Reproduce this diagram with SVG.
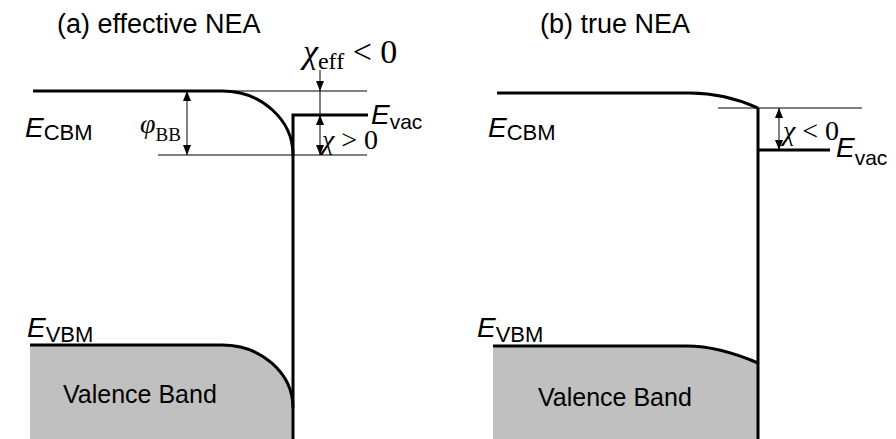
<svg xmlns="http://www.w3.org/2000/svg" width="896" height="439" viewBox="0 0 896 439">
<style>
.thick{fill:none;stroke:#000;stroke-width:3}
.thin{fill:none;stroke:#000;stroke-width:1}
.band{fill:#c0c0c0;stroke:none}
.sans{font-family:"Liberation Sans",Arial,sans-serif;fill:#000}
.serif{font-family:"Liberation Serif","Times New Roman",serif;fill:#000}
.title{font-size:27px}
.E{font-size:28px;font-style:italic}
.sub{font-size:22px}
.vac{font-size:21px}
.vb{font-size:25px}
.gr{font-size:28px;font-style:italic}
.gs{font-size:19px}
.op{font-size:28px}
.big{font-size:34px}
.bigsub{font-size:24px}
</style>
<defs>
<marker id="ah" viewBox="0 0 10 10" refX="10" refY="5" markerWidth="11" markerHeight="10" markerUnits="userSpaceOnUse" orient="auto-start-reverse">
<path d="M0,1 L10,5 L0,9 Z" fill="#000"/>
</marker>
</defs>
<g id="panel-a">
<text class="sans title" x="57" y="33">(a) effective NEA</text>
<g id="a-valence">
<path class="band" d="M30,345 H222 A71 63 0 0 1 293 408 V439 H30 Z"/>
<text class="sans vb" x="63" y="403">Valence Band</text>
</g>
<g id="a-cbm">
<path class="thick" d="M33,91 H222 A71 64 0 0 1 293 155"/>
<text class="sans" x="25" y="137"><tspan class="E">E</tspan><tspan class="sub" dy="3">CBM</tspan></text>
</g>
<g id="a-vbm">
<path class="thick" d="M30,345 H222 A71 63 0 0 1 293 408"/>
<text class="sans" x="27" y="337"><tspan class="E">E</tspan><tspan class="sub" dy="5">VBM</tspan></text>
</g>
<g id="a-vac">
<path class="thick" d="M293,439 V115 H368"/>
<text class="sans" x="371" y="124"><tspan class="E">E</tspan><tspan class="vac" dy="5">vac</tspan></text>
</g>
<g id="a-refs">
<line class="thin" x1="222" y1="91" x2="367" y2="91"/>
<line class="thin" x1="158" y1="155" x2="367" y2="155"/>
</g>
<g id="a-phi">
<text class="serif" x="140" y="133"><tspan class="gr">φ</tspan><tspan class="gs" dy="8">BB</tspan></text>
</g>
<g id="a-chieff">
<text class="serif" x="303" y="63"><tspan class="gr big">χ</tspan><tspan class="bigsub" dy="6">eff</tspan><tspan class="big" dy="-6"> &lt; 0</tspan></text>
</g>
<g id="a-chi">
<text class="serif" x="322" y="149"><tspan class="gr">χ</tspan><tspan class="op"> &gt; 0</tspan></text>
</g>
</g>
<g id="panel-b">
<text class="sans title" x="540" y="33">(b) true NEA</text>
<g id="b-valence">
<path class="band" d="M493,346 H687 C712,346 737,354 758,363 V439 H493 Z"/>
<text class="sans vb" x="538" y="406">Valence Band</text>
</g>
<g id="b-cbm">
<path class="thick" d="M497,93 H690 C715,93 738,99 758,108"/>
<text class="sans" x="488" y="137"><tspan class="E">E</tspan><tspan class="sub" dy="3">CBM</tspan></text>
</g>
<g id="b-vbm">
<path class="thick" d="M493,346 H687 C712,346 737,354 758,363"/>
<text class="sans" x="477" y="337"><tspan class="E">E</tspan><tspan class="sub" dy="5">VBM</tspan></text>
</g>
<g id="b-vac">
<path class="thick" d="M758,439 V108 M758,150 H830"/>
<text class="sans" x="836" y="157"><tspan class="E">E</tspan><tspan class="vac" dy="8">vac</tspan></text>
</g>
<g id="b-refs">
<line class="thin" x1="718" y1="108" x2="862" y2="108"/>
</g>
<g id="b-chi">
<text class="serif" x="783" y="140"><tspan class="gr">χ</tspan><tspan class="op"> &lt; 0</tspan></text>
</g>
</g>
<g id="connectors">
<line class="thin" x1="187" y1="91" x2="187" y2="155" marker-start="url(#ah)" marker-end="url(#ah)"/>
<line class="thin" x1="320" y1="70" x2="320" y2="91" marker-end="url(#ah)"/>
<line class="thin" x1="320" y1="91" x2="320" y2="115"/>
<line class="thin" x1="320" y1="115" x2="320" y2="155" marker-start="url(#ah)" marker-end="url(#ah)"/>
<line class="thin" x1="779" y1="108" x2="779" y2="150" marker-start="url(#ah)" marker-end="url(#ah)"/>
</g>
</svg>
